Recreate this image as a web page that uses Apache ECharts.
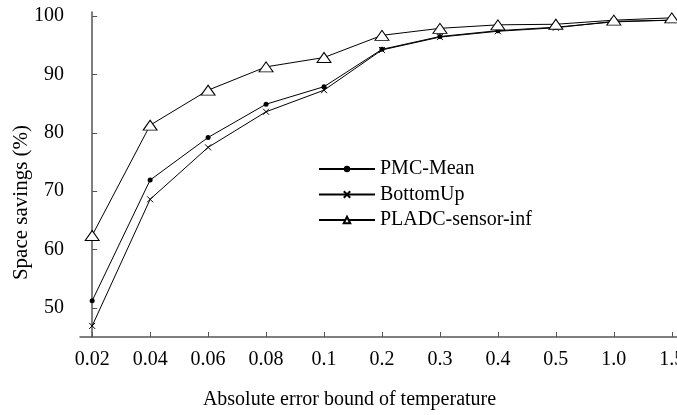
<!DOCTYPE html>
<html>
<head>
<meta charset="utf-8">
<script src="https://cdn.jsdelivr.net/npm/echarts@6/dist/echarts.min.js"></script>
<style>html,body{margin:0;padding:0;background:#fff}#c{width:677px;height:415px}</style>
</head>
<body>
<div id="c"></div>
<script>
var xLabels = ['0.02','0.04','0.06','0.08','0.1','0.2','0.3','0.4','0.5','1.0','1.5'];
var yTicks = [50, 60, 70, 80, 90, 100];
var pmcMean = [51.2, 71.9, 79.2, 84.9, 87.9, 94.3, 96.5, 97.5, 98.1, 99.0, 99.3];
var bottomUp = [46.9, 68.6, 77.5, 83.6, 87.3, 94.2, 96.4, 97.4, 98.0, 99.1, 99.3];
var pladc = [62.4, 81.3, 87.3, 91.3, 92.9, 96.7, 97.9, 98.5, 98.6, 99.3, 99.7];

function pairs(arr){ return arr.map(function(v,i){ return [i, v]; }); }
var xIdx = xLabels.map(function(_, i){ return i; });

var font = 'Liberation Serif, Times New Roman, serif';
var axisCol = '#555';
var chart = echarts.init(document.getElementById('c'));
chart.setOption({
  animation: false,
  backgroundColor: '#fff',
  grid: { left: 80, right: 0, top: 12, bottom: 78, outerBoundsMode: 'none', containLabel: false },
  legend: {
    orient: 'vertical', left: 318, top: 159, padding: 0,
    itemWidth: 56, itemHeight: 8, itemGap: 5.5,
    textStyle: { fontFamily: font, fontSize: 20, color: '#000', lineHeight: 20 },
    data: ['PMC-Mean', 'BottomUp', 'PLADC-sensor-inf']
  },
  xAxis: {
    type: 'value', min: -0.21, max: 10.09,
    name: 'Absolute error bound of temperature',
    nameLocation: 'middle', nameGap: 53, nameMoveOverlap: false,
    nameTextStyle: { fontFamily: font, fontSize: 20, color: '#000', padding: [0, 58, 0, 0] },
    axisLine: { show: true, lineStyle: { color: axisCol, width: 1.5 } },
    axisTick: { show: true, inside: true, length: 5, customValues: xIdx, lineStyle: { color: axisCol } },
    axisLabel: { customValues: xIdx, margin: 13, fontFamily: font, fontSize: 20, color: '#000',
      formatter: function(v){ return xLabels[Math.round(v)]; } },
    splitLine: { show: false }
  },
  yAxis: {
    type: 'value', min: 45, max: 100.7,
    name: 'Space savings (%)', nameLocation: 'middle', nameRotate: 90, nameGap: 48, nameMoveOverlap: false,
    nameTextStyle: { fontFamily: font, fontSize: 21, color: '#000', padding: [0, 56, 0, 0] },
    axisLine: { show: true, lineStyle: { color: axisCol, width: 1.5 } },
    axisTick: { show: true, inside: true, length: 5, customValues: yTicks, lineStyle: { color: axisCol } },
    axisLabel: { customValues: yTicks, margin: 16, fontFamily: font, fontSize: 20, color: '#000' },
    splitLine: { show: false }
  },
  series: [
    {
      name: 'PMC-Mean', type: 'line', data: pairs(pmcMean),
      symbol: 'circle', symbolSize: 5, showAllSymbol: true,
      lineStyle: { color: '#000', width: 1 },
      itemStyle: { color: '#000' }
    },
    {
      name: 'BottomUp', type: 'line', data: pairs(bottomUp),
      symbol: 'path://M0,0L10,10M0,10L10,0', symbolSize: 6,
      lineStyle: { color: '#000', width: 1 },
      itemStyle: { color: '#000', borderColor: '#000', borderWidth: 1 }
    },
    {
      name: 'PLADC-sensor-inf', type: 'line', data: pairs(pladc),
      symbol: 'triangle', symbolSize: [14, 10],
      lineStyle: { color: '#000', width: 1 },
      itemStyle: { color: '#fff', borderColor: '#000', borderWidth: 1 }
    }
  ]
});
</script>
</body>
</html>
